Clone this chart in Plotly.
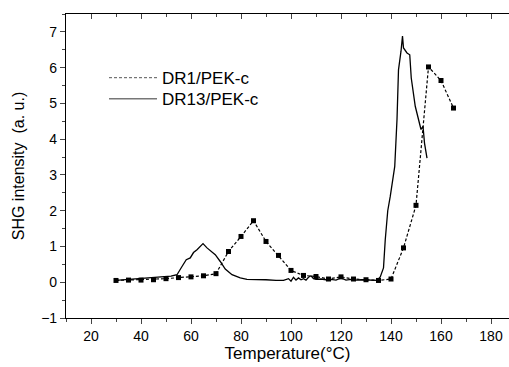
import plotly.graph_objects as go

# DR1/PEK-c (dashed with squares)
dr1_temp = [30, 35, 40, 45, 50, 55, 60, 65, 70, 75, 80, 85, 90, 95, 100, 105, 110,
            115, 120, 125, 130, 135, 140, 145, 150, 155, 160, 165]
dr1_shg = [0.05, 0.06, 0.06, 0.07, 0.10, 0.13, 0.15, 0.18, 0.24, 0.86, 1.28, 1.72,
           1.14, 0.75, 0.33, 0.19, 0.16, 0.09, 0.15, 0.09, 0.07, 0.05, 0.09, 0.96,
           2.15, 6.02, 5.64, 4.87]

# DR13/PEK-c (solid)
dr13_temp = [30, 33, 36, 40, 44, 48, 52, 54.4, 56.4, 58.1, 59.7, 61, 62.4, 63.6, 64.8,
             66.4, 67.7, 69.7, 71.7, 73.7, 76.4, 79.7, 82.4, 86, 90, 94, 97, 99, 100,
             101, 102, 103, 104, 105, 106, 107, 108, 109, 110, 112, 114, 116, 118, 120,
             122, 124, 126, 128, 130, 132, 134.4, 135.7, 137, 137.7, 138.7, 139.7, 140.4,
             141.5, 142.4, 143.0, 144.0, 144.6, 145.0, 146.4, 147.5, 148.1, 149.7, 151.0,
             152.0, 152.8, 153.4, 154.4]
dr13_shg = [0.05, 0.07, 0.08, 0.10, 0.13, 0.15, 0.17, 0.21, 0.44, 0.63, 0.68, 0.83, 0.91,
            1.00, 1.08, 0.96, 0.88, 0.77, 0.58, 0.37, 0.21, 0.12, 0.08, 0.08, 0.07, 0.05,
            0.05, 0.10, 0.03, 0.14, 0.06, 0.12, 0.07, 0.10, 0.06, 0.14, 0.18, 0.10, 0.08,
            0.09, 0.07, 0.08, 0.06, 0.12, 0.06, 0.08, 0.06, 0.07, 0.06, 0.06, 0.05, 0.15,
            0.40, 1.19, 2.00, 2.40, 2.77, 3.24, 4.55, 5.94, 6.46, 6.88, 6.55, 6.41, 6.36,
            5.71, 4.92, 4.55, 4.27, 4.36, 3.89, 3.47]

x_ticks = [20, 40, 60, 80, 100, 120, 140, 160, 180]
y_ticks = [-1, 0, 1, 2, 3, 4, 5, 6, 7]

FONT = "Liberation Sans, Arial, sans-serif"

fig = go.Figure()
fig.add_trace(go.Scatter(x=dr1_temp, y=dr1_shg, mode="lines+markers",
                         line=dict(color="black", width=1.2, dash="3px,2px"),
                         marker=dict(symbol="square", size=5, color="black"),
                         showlegend=False))
fig.add_trace(go.Scatter(x=dr13_temp, y=dr13_shg, mode="lines",
                         line=dict(color="black", width=1.3),
                         showlegend=False))
# legend-only entries
fig.add_trace(go.Scatter(x=[None], y=[None], mode="lines", name="DR1/PEK-c",
                         legend="legend",
                         line=dict(color="#555555", width=1, dash="3px,2px")))
fig.add_trace(go.Scatter(x=[None], y=[None], mode="lines", name="DR13/PEK-c",
                         legend="legend2",
                         line=dict(color="#777777", width=1.5)))
# top axis (ticks inside, no labels)
fig.add_trace(go.Scatter(x=[None], y=[None], xaxis="x2", showlegend=False))

leg_common = dict(x=0.0858, xanchor="left", yanchor="middle",
                  bgcolor="rgba(0,0,0,0)", font=dict(size=17), itemwidth=48)

fig.update_layout(
    width=509, height=367,
    margin=dict(l=66, r=0, t=14, b=49),
    paper_bgcolor="white", plot_bgcolor="white",
    font=dict(family=FONT, color="black", size=14),
    legend=dict(y=0.789, **leg_common),
    legend2=dict(y=0.720, **leg_common),
    xaxis=dict(range=[10, 187.2], tickvals=x_ticks, ticks="outside", ticklen=5,
               tickwidth=1, showline=True, linecolor="black", linewidth=1.2,
               showgrid=False, zeroline=False,
               minor=dict(dtick=10, tick0=0, ticks="outside", ticklen=3, tickwidth=1),
               title=dict(text="Temperature(°C)", font=dict(size=17), standoff=4),
               tickfont=dict(size=14)),
    xaxis2=dict(range=[10, 187.2], overlaying="x", side="top", tickvals=x_ticks,
                ticks="inside", ticklen=5, tickwidth=1, showticklabels=False,
                showline=True, linecolor="black", linewidth=1.2, showgrid=False,
                zeroline=False,
                minor=dict(dtick=10, tick0=0, ticks="inside", ticklen=3, tickwidth=1)),
    yaxis=dict(range=[-1, 7.5], tickvals=y_ticks, ticks="outside", ticklen=5,
               tickwidth=1, showline=True, linecolor="black", linewidth=1.2,
               showgrid=False, zeroline=False,
               minor=dict(dtick=0.5, tick0=0, ticks="outside", ticklen=3, tickwidth=1),
               title=dict(text="SHG intensity  (a. u.)", font=dict(size=16), standoff=12),
               tickfont=dict(size=14)),
)

fig.write_html("out.html", config={"displayModeBar": False},
               post_script="document.body.style.margin='0';document.body.style.overflow='hidden';")
